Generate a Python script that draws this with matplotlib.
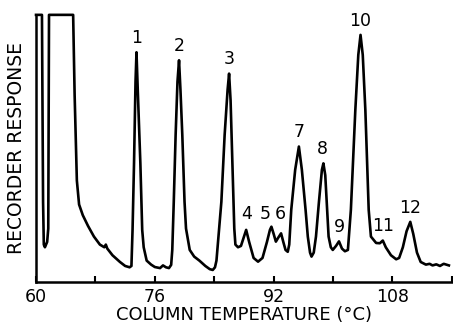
import matplotlib
matplotlib.use("Agg")
import matplotlib.pyplot as plt

# Chromatogram trace (temperature, response %)
temp = [
    60.0, 60.8, 60.95, 61.05, 61.2, 61.5, 61.65, 61.75, 65.0, 65.2, 65.5, 65.8,
    66.3, 67.0, 67.8, 68.6, 69.2, 69.4, 69.6, 70.3, 71.3, 72.0, 72.6, 72.85,
    73.0, 73.2, 73.4, 73.53, 73.7, 74.05, 74.3, 74.5, 74.9, 75.5, 76.0, 76.7,
    77.1, 77.5, 77.9, 78.2,
    78.35, 78.55, 78.8, 79.05, 79.26, 79.45, 79.7, 80.0, 80.2, 80.7, 81.3, 82.0,
    82.8, 83.4, 83.8, 84.1,
    84.3, 84.96, 85.4, 85.8, 86.0, 86.2, 86.5, 86.7, 86.85, 87.2, 87.6,
    88.0, 88.3, 88.7, 89.3, 89.9, 90.5, 91.1, 91.5, 91.7, 92.0, 92.3, 92.6,
    93.0, 93.3, 93.6, 93.9, 94.1,
    94.37, 94.9, 95.4, 95.8, 96.3, 96.6, 96.9, 97.1, 97.4, 97.7, 98.1, 98.5,
    98.7, 98.95, 99.4, 99.7, 99.96, 100.4, 100.8, 101.2, 101.6, 102.0,
    102.4, 103.0, 103.4, 103.7, 104.0, 104.35, 104.8, 105.1, 105.8, 106.3,
    106.7, 107.1, 107.8, 108.5, 108.9, 109.4, 109.9, 110.4, 110.8, 111.3,
    111.8, 112.5, 113.0, 113.4, 113.9, 114.4, 114.9, 115.6,
]
response = [
    100, 100, 30, 14, 13, 15, 20, 100, 100, 70, 38, 29,
    25, 21, 17, 14, 13, 14, 12.5, 10, 7.5, 6, 5.5, 6,
    19.5, 44.6, 75, 86, 72, 44.6, 19.5, 13, 8, 6.5, 5.6, 5.2,
    6.2, 5.5, 5.2, 6.4,
    12, 30, 55, 75, 83, 72, 55, 30, 20, 12, 9.5, 8,
    6, 4.8, 4.5, 5.5,
    8, 30, 55, 72, 78, 68, 40, 20, 14, 13, 13.5,
    17, 19.5, 15, 9, 7.6, 9, 15, 19.5, 20.7, 18, 15.1, 16.5,
    18.2, 15, 12, 11.3, 14,
    27, 42, 50.7, 42, 27, 17, 11, 9.5, 11, 17, 30, 42,
    44.4, 40, 17, 13, 12, 13.5, 15.2, 12.5, 11.5, 12,
    27, 64.4, 85, 92.5, 85, 64.4, 27, 17, 14.6, 14.5,
    15.5, 13, 10, 8.5, 9, 13, 19, 22.5, 18, 11,
    7.5, 6.5, 6.8, 6.2, 6.6, 6.0, 6.8, 6.2,
]

# numbered peaks: label position (apex temperature, apex height)
peak_ids = ["1", "2", "3", "4", "5", "6", "7", "8", "9", "10", "11", "12"]
peak_temp = [73.53, 79.26, 86.0, 88.4, 90.8, 92.9, 95.4, 98.6, 100.8, 103.6, 106.7, 110.4]
peak_height = [86, 83, 78, 20, 20, 20, 50.7, 44.4, 15.2, 92.5, 15.5, 22.5]

major_ticks = [60, 76, 92, 108]
minor_ticks = [68, 84, 100, 116]

fig = plt.figure(figsize=(4.53, 3.23), dpi=100)
ax = fig.add_axes([0.0795, 0.127, 0.918, 0.827])

ax.plot(temp, response, color="black", lw=1.9, solid_joinstyle="round", clip_on=False)

for pid, t, h in zip(peak_ids, peak_temp, peak_height):
    ax.text(t, h + 2.0, pid, ha="center", va="bottom", fontsize=12.5)

ax.set_xlim(60, 116)
ax.set_ylim(0, 100)
ax.set_xticks(major_ticks)
ax.set_xticks(minor_ticks, minor=True)
ax.set_yticks([])
ax.tick_params(axis="x", which="both", direction="in", length=4, width=1.5,
               labelsize=12.5, pad=4)

for side in ("top", "right"):
    ax.spines[side].set_visible(False)
for side in ("left", "bottom"):
    ax.spines[side].set_linewidth(1.8)

ax.set_xlabel("COLUMN TEMPERATURE (°C)", fontsize=13, labelpad=0)
ax.set_ylabel("RECORDER RESPONSE", fontsize=13.5, labelpad=7)

fig.savefig("out.png", dpi=100)
